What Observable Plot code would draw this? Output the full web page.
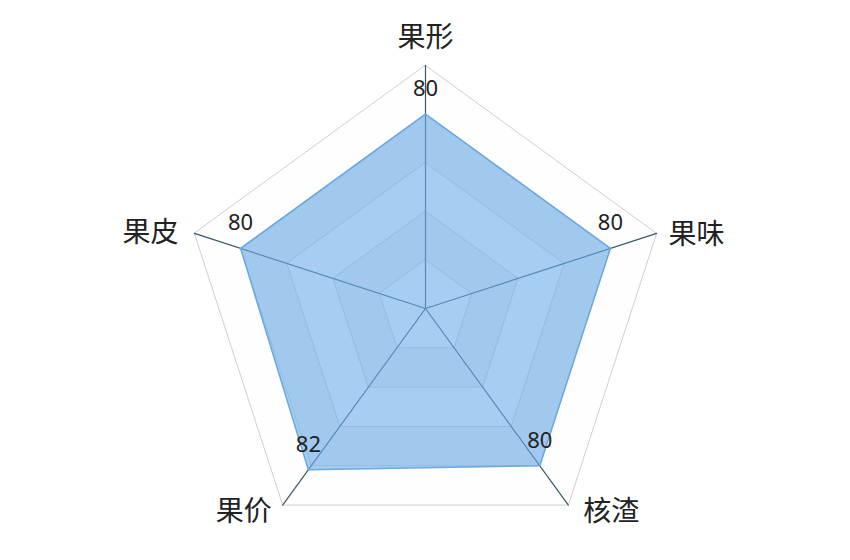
<!DOCTYPE html>
<html>
<head>
<meta charset="utf-8">
<script src="https://cdn.jsdelivr.net/npm/d3@7"></script>
<script src="https://cdn.jsdelivr.net/npm/@observablehq/plot@0.6"></script>
<style>
  html, body { margin: 0; padding: 0; background: #fff; }
  #chart { width: 850px; height: 560px; }
</style>
</head>
<body>
<div id="chart"></div>
<script>
const axesNames = ["果形", "果味", "核渣", "果价", "果皮"];
const values = [80, 80, 80, 82, 80];
const maxValue = 100;
const ringLevels = [100, 80, 60, 40, 20];

const n = axesNames.length;
const ang = i => (i * 2 * Math.PI) / n;
const pt = (r, i) => ({x: r * Math.sin(ang(i)), y: r * Math.cos(ang(i))});

const ringPts = ringLevels.flatMap((lv, k) =>
  axesNames.map((a, i) => ({...pt(lv, i), ring: lv, k})));
const axisPts = axesNames.flatMap((a, i) => [
  {...pt(0, i), axis: a}, {...pt(maxValue, i), axis: a}]);
const dataPts = values.map((v, i) => ({...pt(v, i), v, name: axesNames[i]}));
const namePts = axesNames.map((a, i) => ({...pt(maxValue, i), name: a}));

const scale = 2.43;
const marks = [];
ringLevels.forEach((lv, k) => {
  marks.push(Plot.line(ringPts.filter(d => d.ring === lv), {
    x: "x", y: "y", curve: "linear-closed",
    fill: k % 2 === 0 ? "#fefefe" : "#f3f3f3",
    stroke: "#cfcfcf", strokeWidth: 1
  }));
});
marks.push(Plot.line(axisPts, {x: "x", y: "y", z: "axis", stroke: "#34586b", strokeWidth: 1.2}));
marks.push(Plot.line(dataPts, {
  x: "x", y: "y", curve: "linear-closed",
  fill: "#6bacea", fillOpacity: 0.6, stroke: "#6aa8e0", strokeWidth: 1.5
}));
marks.push(Plot.text(dataPts, {
  x: "x", y: "y", text: d => String(d.v), dy: -25,
  fontSize: 22, fill: "#222", fontFamily: "Noto Sans, 'Noto Sans CJK SC', sans-serif"
}));
const nameOffsets = [
  {anchor: "middle", dx: 0, dy: -27},
  {anchor: "start", dx: 12, dy: 2},
  {anchor: "start", dx: 15, dy: 7},
  {anchor: "end", dx: -11, dy: 7},
  {anchor: "end", dx: -16, dy: 0}
];
namePts.forEach((d, i) => {
  const o = nameOffsets[i];
  marks.push(Plot.text([d], {
    x: "x", y: "y", text: "name", textAnchor: o.anchor, dx: o.dx, dy: o.dy,
    fontSize: 28, fill: "#222", fontFamily: "'Noto Sans CJK SC', sans-serif"
  }));
});

const cx = 425, cy = 308, W = 850, H = 560;
const chart = Plot.plot({
  width: W, height: H, margin: 0,
  x: {axis: null, domain: [-cx / scale, (W - cx) / scale]},
  y: {axis: null, domain: [(cy - H) / scale, cy / scale]},
  style: {background: "#fff"},
  marks
});
document.getElementById("chart").appendChild(chart);
</script>
</body>
</html>
